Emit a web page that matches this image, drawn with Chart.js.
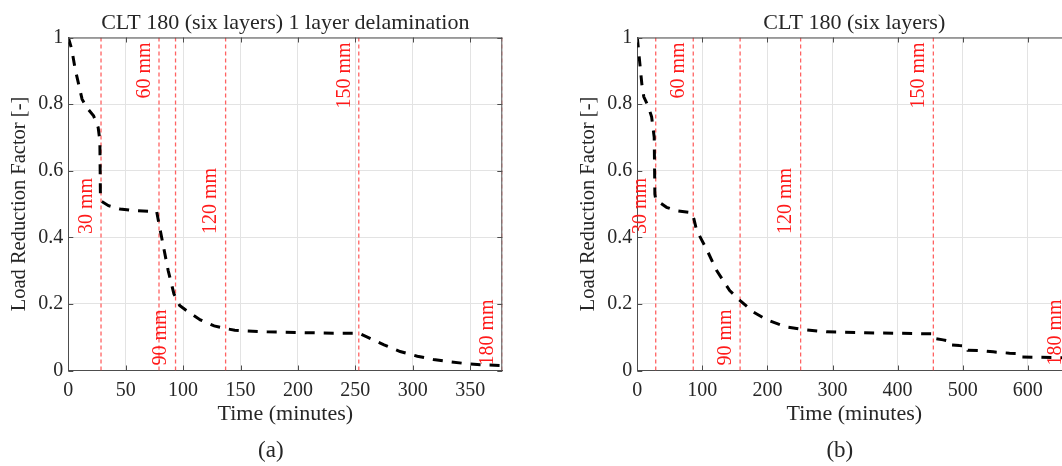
<!DOCTYPE html>
<html>
<head>
<meta charset="utf-8">
<script src="https://cdn.jsdelivr.net/npm/chart.js@4.4.1/dist/chart.umd.min.js"></script>
<style>
  html, body { margin: 0; padding: 0; background: #fff; }
  body { width: 1062px; height: 466px; overflow: hidden; position: relative; }
  .wrap { position: absolute; top: 0; width: 531px; height: 466px; }
  #wa { left: 0px; }
  #wb { left: 569px; }
</style>
</head>
<body>
<div class="wrap" id="wa"><canvas id="ca" width="531" height="466"></canvas></div>
<div class="wrap" id="wb"><canvas id="cb" width="531" height="466"></canvas></div>
<script>
// ---------- data ----------
const titleA = 'CLT 180 (six layers) 1 layer delamination';
const titleB = 'CLT 180 (six layers)';
const captionA = '(a)';
const captionB = '(b)';
const xAxisTitle = 'Time (minutes)';
const yAxisTitle = 'Load Reduction Factor [-]';

const timeA = [0, 3, 6, 9, 12, 16, 22, 26, 27.5, 28, 35, 45, 57, 77, 79, 83, 87, 92, 97, 105, 115, 127, 137, 145, 173, 200, 231, 253, 260, 275, 289, 304, 318, 333, 348, 362, 378];
const lrfA  = [1.0, 0.965, 0.905, 0.86, 0.815, 0.79, 0.765, 0.73, 0.69, 0.51, 0.495, 0.485, 0.48, 0.477, 0.44, 0.37, 0.30, 0.23, 0.195, 0.175, 0.152, 0.134, 0.126, 0.121, 0.116, 0.114, 0.112, 0.112, 0.101, 0.077, 0.057, 0.043, 0.033, 0.026, 0.02, 0.017, 0.015];

const timeB = [0, 4, 7, 10, 17, 22, 26, 27, 28.5, 45, 60, 83.5, 87, 91, 107, 122, 142, 158, 178, 199, 229, 251, 291, 350, 393, 454, 455, 470, 480, 481, 495, 506, 508, 525, 547, 572, 587, 589, 610, 640, 667];
const lrfB  = [1.0, 0.92, 0.86, 0.822, 0.792, 0.762, 0.70, 0.53, 0.512, 0.49, 0.48, 0.474, 0.455, 0.422, 0.362, 0.30, 0.24, 0.21, 0.176, 0.152, 0.131, 0.124, 0.116, 0.113, 0.112, 0.11, 0.097, 0.092, 0.088, 0.077, 0.075, 0.074, 0.061, 0.060, 0.056, 0.052, 0.051, 0.041, 0.040, 0.039, 0.038];

const layerLabels = ['30 mm', '60 mm', '90 mm', '120 mm', '150 mm', '180 mm'];
const layerTimesA = [28.5, 79, 93.4, 137, 253, 378];
const layerTimesB = [28.3, 86, 158, 251, 455, 666];

const xTicksA = [0, 50, 100, 150, 200, 250, 300, 350];
const xTicksB = [0, 100, 200, 300, 400, 500, 600];
const yTicks = [0, 0.2, 0.4, 0.6, 0.8, 1];
const yTickLabels = ['0', '0.2', '0.4', '0.6', '0.8', '1'];
const xMaxA = 378;
const xMaxB = 667;

// ---------- style ----------
const FONT = "'Liberation Serif', 'DejaVu Serif', serif";
const TEXT = '#262626';
const AXIS = '#4d4d4d';
const GRID = '#e3e3e3';
const RED_LINE = 'rgba(255, 70, 70, 0.85)';
const RED_TEXT = '#ff1a1a';
// label placement: [anchor y value, alignment] per layer label
const labelPlace = [[0.41, 'left'], [0.985, 'right'], [0.015, 'left'], [0.41, 'left'], [0.985, 'right'], [0.015, 'left']];

function pairs(xs, ys) { return xs.map((x, i) => ({ x: x, y: ys[i] })); }

function makeDatasets(times, lrf, layerTimes) {
  const ds = [{
    data: pairs(times, lrf),
    borderColor: '#000',
    borderWidth: 3,
    borderDash: [10, 9],
    pointRadius: 0,
    tension: 0,
    fill: false
  }];
  layerTimes.forEach(t => {
    ds.push({
      data: pairs([t, t], [0, 1]),
      borderColor: RED_LINE,
      borderWidth: 1.3,
      borderDash: [4, 3],
      pointRadius: 0,
      tension: 0,
      fill: false
    });
  });
  return ds;
}

const decorPlugin = {
  id: 'decor',
  afterDatasetsDraw(chart, args, opts) {
    const ctx = chart.ctx;
    const a = chart.chartArea;
    const xs = chart.scales.x, ys = chart.scales.y;
    ctx.save();
    // box
    ctx.strokeStyle = AXIS;
    ctx.lineWidth = 1;
    ctx.beginPath();
    ctx.moveTo(a.left, a.top + 0.5); ctx.lineTo(a.right, a.top + 0.5);
    ctx.moveTo(a.right - 0.5, a.top); ctx.lineTo(a.right - 0.5, a.bottom);
    ctx.stroke();
    // inside tick marks
    const tl = 5;
    ctx.beginPath();
    xs.ticks.forEach(t => {
      const px = Math.round(xs.getPixelForValue(t.value)) + 0.5;
      ctx.moveTo(px, a.bottom); ctx.lineTo(px, a.bottom - tl);
      ctx.moveTo(px, a.top); ctx.lineTo(px, a.top + tl);
    });
    ys.ticks.forEach(t => {
      const py = Math.round(ys.getPixelForValue(t.value)) + 0.5;
      ctx.moveTo(a.left, py); ctx.lineTo(a.left + tl, py);
      ctx.moveTo(a.right, py); ctx.lineTo(a.right - tl, py);
    });
    ctx.stroke();
    // layer labels
    ctx.fillStyle = RED_TEXT;
    ctx.font = '20px ' + FONT;
    ctx.textBaseline = 'middle';
    opts.layerTimes.forEach((t, i) => {
      const px = xs.getPixelForValue(t) - 14.5;
      const py = ys.getPixelForValue(labelPlace[i][0]);
      ctx.save();
      ctx.translate(px, py);
      ctx.rotate(-Math.PI / 2);
      ctx.textAlign = labelPlace[i][1];
      ctx.fillText(layerLabels[i], 0, 0);
      ctx.restore();
    });
    // titles
    ctx.fillStyle = TEXT;
    ctx.textAlign = 'center';
    ctx.textBaseline = 'alphabetic';
    const cx = (a.left + a.right) / 2;
    ctx.font = '22px ' + FONT;
    ctx.fillText(opts.title, cx, 28.5);
    ctx.fillText(xAxisTitle, cx, 419.5);
    ctx.font = '23px ' + FONT;
    ctx.fillText(opts.caption, cx - 14.5, 457);
    ctx.save();
    ctx.translate(a.left - 48.5, (a.top + a.bottom) / 2);
    ctx.rotate(-Math.PI / 2);
    ctx.textBaseline = 'middle';
    ctx.font = '20.5px ' + FONT;
    ctx.fillText(yAxisTitle, 0, 0);
    ctx.restore();
    ctx.restore();
  }
};

function makeChart(id, times, lrf, layerTimes, xTicks, xMax, title, caption) {
  return new Chart(document.getElementById(id), {
    type: 'line',
    data: { datasets: makeDatasets(times, lrf, layerTimes) },
    options: {
      responsive: false,
      animation: false,
      layout: { padding: { left: 0, top: 37.5, right: 28.7, bottom: 0 } },
      plugins: {
        legend: { display: false },
        tooltip: { enabled: false },
        decor: { layerTimes: layerTimes, title: title, caption: caption }
      },
      scales: {
        x: {
          type: 'linear',
          min: 0, max: xMax,
          afterBuildTicks: s => { s.ticks = xTicks.map(v => ({ value: v })); },
          afterFit: s => { s.height = 95.5; },
          ticks: { font: { family: FONT, size: 20 }, color: TEXT, padding: 8, maxRotation: 0,
                   callback: v => String(v) },
          grid: { color: GRID, drawTicks: false, lineWidth: 1 },
          border: { display: true, color: AXIS, width: 1 }
        },
        y: {
          type: 'linear',
          min: 0, max: 1,
          afterBuildTicks: s => { s.ticks = yTicks.map(v => ({ value: v })); },
          afterFit: s => { s.width = 68.3; },
          ticks: { font: { family: FONT, size: 20 }, color: TEXT, padding: 5,
                   callback: (v, i) => yTickLabels[i] },
          grid: { color: GRID, drawTicks: false, lineWidth: 1 },
          border: { display: true, color: AXIS, width: 1 }
        }
      }
    },
    plugins: [decorPlugin]
  });
}

makeChart('ca', timeA, lrfA, layerTimesA, xTicksA, xMaxA, titleA, captionA);
makeChart('cb', timeB, lrfB, layerTimesB, xTicksB, xMaxB, titleB, captionB);
</script>
</body>
</html>
